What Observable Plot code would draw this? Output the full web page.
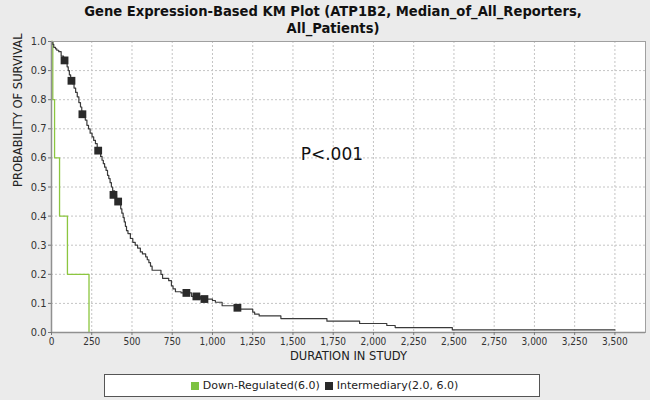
<!DOCTYPE html>
<html><head><meta charset="utf-8">
<script src="https://cdn.jsdelivr.net/npm/d3@7"></script>
<script src="https://cdn.jsdelivr.net/npm/@observablehq/plot@0.6"></script>
<style>
body{margin:0;background:#ebebeb;width:650px;height:400px;overflow:hidden;position:relative;font-family:"DejaVu Sans",sans-serif;}
#title{position:absolute;left:0;top:2px;width:666px;text-align:center;font-weight:bold;font-size:14.6px;font-family:"DejaVu Sans Condensed","DejaVu Sans",sans-serif;line-height:17px;color:#111;}
#chart{position:absolute;left:0;top:36px;}
#legend{position:absolute;left:104px;top:374px;width:434px;height:21px;border:1px solid #555;background:#fff;display:flex;align-items:center;justify-content:center;font-size:11px;font-family:"DejaVu Sans",sans-serif;color:#222;}
#legend .sw{display:inline-block;width:8px;height:8px;margin:0 4px 0 5px;}
</style></head>
<body>
<div id="title">Gene Expression-Based KM Plot (ATP1B2, Median_of_All_Reporters,<br>All_Patients)</div>
<div id="chart"></div>
<div id="legend"></div>
<script>
const titleText = "Gene Expression-Based KM Plot (ATP1B2, Median_of_All_Reporters, All_Patients)";
const seriesNames = ["Down-Regulated(6.0)", "Intermediary(2.0, 6.0)"];
const seriesColors = ["#8cc63f", "#2a2a2a"];
const xLabel = "DURATION IN STUDY";
const yLabel = "PROBABILITY OF SURVIVAL";
const pValueText = "P<.001";
const xTicks = [0,250,500,750,1000,1250,1500,1750,2000,2250,2500,2750,3000,3250,3500];
const yTicks = [0,0.1,0.2,0.3,0.4,0.5,0.6,0.7,0.8,0.9,1.0];

// Down-Regulated KM steps
const downTimes = [0, 8, 19, 50, 99, 233];
const downSurv  = [1.0, 0.8, 0.6, 0.4, 0.2, 0.0];

// Intermediary KM steps
const interTimes = [0, 8, 14, 25, 33, 45, 60, 75, 88, 97, 104, 111, 119, 130, 140, 150, 160, 170, 180, 188, 198, 210, 220, 230, 240, 252, 262, 273, 284, 296, 305, 314, 322, 330, 339, 348, 356, 364, 372, 380, 392, 404, 422, 430, 437, 445, 452, 459, 466, 475, 490, 505, 520, 535, 552, 565, 585, 595, 605, 615, 625, 680, 690, 728, 745, 755, 770, 805, 870, 925, 1000, 1018, 1060, 1140, 1165, 1250, 1262, 1290, 1425, 1711, 1914, 2083, 2135, 2490, 3500];
const interSurv  = [1.0, 0.99, 0.98, 0.975, 0.97, 0.965, 0.95, 0.935, 0.925, 0.913, 0.90, 0.885, 0.865, 0.855, 0.84, 0.825, 0.81, 0.79, 0.775, 0.76, 0.75, 0.73, 0.712, 0.70, 0.685, 0.672, 0.66, 0.649, 0.635, 0.62, 0.605, 0.592, 0.58, 0.568, 0.557, 0.54, 0.529, 0.515, 0.50, 0.487, 0.473, 0.455, 0.445, 0.425, 0.41, 0.395, 0.38, 0.365, 0.35, 0.34, 0.323, 0.31, 0.30, 0.29, 0.277, 0.27, 0.26, 0.25, 0.24, 0.228, 0.214, 0.20, 0.186, 0.178, 0.16, 0.15, 0.14, 0.136, 0.124, 0.115, 0.11, 0.104, 0.092, 0.085, 0.08, 0.07, 0.063, 0.057, 0.048, 0.039, 0.031, 0.024, 0.017, 0.009, 0.009];

// censored markers (Intermediary)
const censorTimes = [81, 124, 192, 290, 385, 414, 838, 900, 950, 1155];
const censorSurv  = [0.935, 0.865, 0.75, 0.625, 0.473, 0.45, 0.136, 0.124, 0.115, 0.085];

const down = downTimes.map((t,i)=>({t, s: downSurv[i]}));
const inter = interTimes.map((t,i)=>({t, s: interSurv[i]}));
const censor = censorTimes.map((t,i)=>({t, s: censorSurv[i]}));

const plot = Plot.plot({
  width: 650, height: 330,
  marginLeft: 51, marginRight: 5, marginTop: 5, marginBottom: 34,
  style: {background: "transparent", fontFamily: "'DejaVu Sans Condensed','DejaVu Sans',sans-serif", fontSize: "10.5px", color: "#333", overflow: "visible"},
  x: {domain: [0, 3690]},
  y: {domain: [0, 1]},
  marks: [
    Plot.frame({fill: "white", stroke: "none"}),
    Plot.gridX(xTicks.slice(1), {stroke: "#c4c4c4", strokeOpacity: 1, strokeDasharray: "2,2"}),
    Plot.gridY(yTicks.slice(1), {stroke: "#c4c4c4", strokeOpacity: 1, strokeDasharray: "2,2"}),
    Plot.line(down, {x: "t", y: "s", curve: "step-after", stroke: seriesColors[0], strokeWidth: 1.3}),
    Plot.line(inter, {x: "t", y: "s", curve: "step-after", stroke: "#3a3a3a", strokeWidth: 1.2}),
    Plot.dot(censor, {x: "t", y: "s", symbol: "square", fill: seriesColors[1], stroke: "none", r: 4.4}),
    Plot.text([pValueText], {x: 1548, y: 0.61, textAnchor: "start", fontSize: 17, fontFamily: "'DejaVu Sans',sans-serif", fill: "#111"}),
    Plot.frame({stroke: "#a0a0a0", strokeWidth: 1}),
    Plot.ruleY([0], {stroke: "#909090", strokeWidth: 1.5}),
    Plot.ruleX([0], {stroke: "#909090", strokeWidth: 1.5}),
    Plot.axisX(xTicks, {tickFormat: d3.format(","), tickSize: 3, tickPadding: 2, fontSize: 10, stroke: "#777", label: null}),
    Plot.axisY(yTicks, {tickFormat: d3.format(".1f"), tickSize: 3, tickPadding: 2, fontSize: 11, stroke: "#777", label: null}),
    Plot.text([xLabel], {frameAnchor: "bottom", dy: 27, fontSize: 11.5, fontFamily: "'DejaVu Sans',sans-serif", fill: "#222"}),
    Plot.text([yLabel], {frameAnchor: "left", dx: -33, rotate: -90, fontSize: 11.5, fontFamily: "'DejaVu Sans',sans-serif", fill: "#222"})
  ]
});
document.getElementById("chart").appendChild(plot);

const leg = document.getElementById("legend");
seriesNames.forEach((n,i)=>{
  const sw = document.createElement("span");
  sw.className = "sw"; sw.style.background = i===0 ? "#7dc242" : seriesColors[1];
  const tx = document.createElement("span"); tx.textContent = n;
  leg.appendChild(sw); leg.appendChild(tx);
});
</script>
</body></html>
